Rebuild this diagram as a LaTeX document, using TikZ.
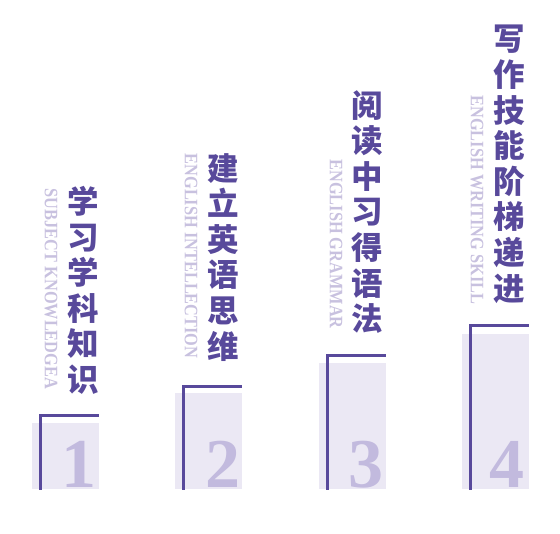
\documentclass[tikz,border=0pt]{standalone}
\usepackage{fontspec}
\usepackage{graphicx}
\setmainfont{Liberation Serif}
\newfontfamily\cjk{Noto Sans CJK SC Black}
\definecolor{deep}{RGB}{88,73,155}
\definecolor{pale}{RGB}{200,193,223}
\definecolor{block}{RGB}{235,232,244}
\definecolor{digit}{RGB}{194,186,222}
\newcommand{\narrow}[1]{\scalebox{0.86}[1]{#1}}

\begin{document}
\begin{tikzpicture}[x=1pt,y=-1pt,
  title/.style={align=center,inner sep=0pt,anchor=north,text=deep,
    font=\cjk\fontsize{31.5}{35.6}\selectfont},
  eng/.style={rotate=-90,inner sep=0pt,text=pale,font=\bfseries\fontsize{19}{19}\selectfont},
  num/.style={anchor=base,inner sep=0pt,text=digit,font=\bfseries\fontsize{70}{70}\selectfont},
  bracket/.style={draw=deep,line width=3pt}]
\useasboundingbox (0,0) rectangle (560,534);

\fill[block] (32,423) rectangle (99,489);
\fill[block] (175,393) rectangle (242,489);
\fill[block] (319,363) rectangle (386,489);
\fill[block] (462,334) rectangle (529,489);

\draw[bracket] (40,490) -- (40,416) -- (99,416);
\draw[bracket] (183,490) -- (183,387) -- (242,387);
\draw[bracket] (327,490) -- (327,356) -- (386,356);
\draw[bracket] (470,490) -- (470,326) -- (529,326);

\node[num] (num1) at (79,488) {1};
\node[num] (num2) at (223,488) {2};
\node[num] (num3) at (366,488) {3};
\node[num] (num4) at (507,488) {4};

\node[title] (zh1) at (83,186) {学\\习\\学\\科\\知\\识};
\node[title] (zh2) at (223,153) {建\\立\\英\\语\\思\\维};
\node[title] (zh3) at (367,90) {阅\\读\\中\\习\\得\\语\\法};
\node[title] (zh4) at (509,25) {写\\作\\技\\能\\阶\\梯\\递\\进};

\node[eng] (en1) at (51,289) {\narrow{SUBJECT KNOWLEDGEA}};
\node[eng] (en2) at (191,256) {\narrow{ENGLISH INTELLECTION}};
\node[eng] (en3) at (336,244) {\narrow{ENGLISH GRAMMAR}};
\node[eng] (en4) at (477,200) {\narrow{ENGLISH WRITING SKILL}};
\end{tikzpicture}
\end{document}
